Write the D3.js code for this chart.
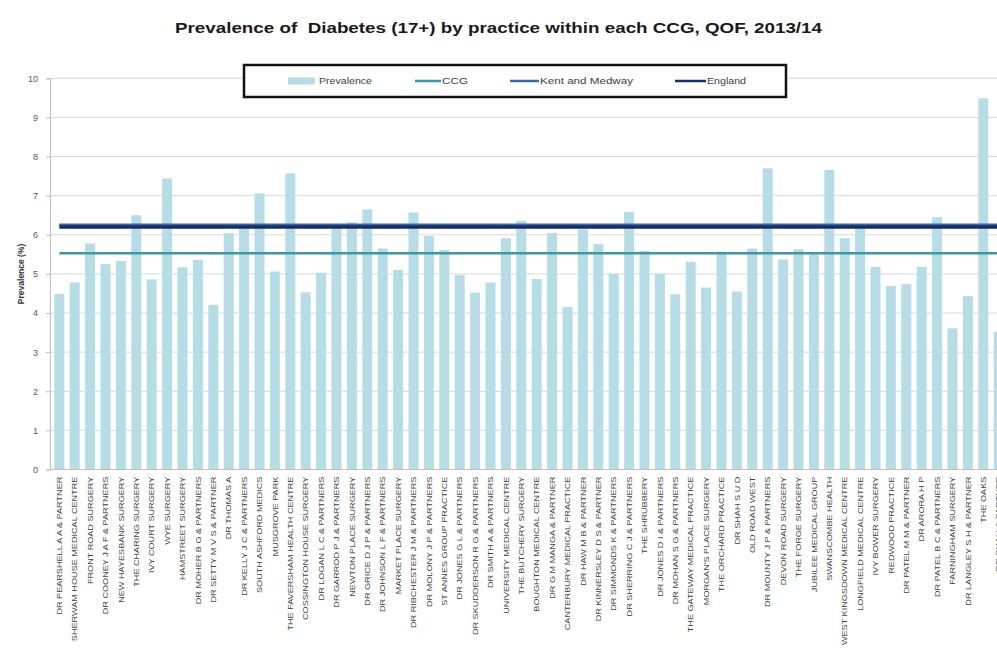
<!DOCTYPE html>
<html>
<head>
<meta charset="utf-8">
<script src="https://cdn.jsdelivr.net/npm/d3@7/dist/d3.min.js"></script>
<style>
  html, body { margin: 0; padding: 0; background: #fff; }
  svg { display: block; font-family: "Liberation Sans", Arial, sans-serif; }
</style>
</head>
<body>
<svg id="chart" width="997" height="648"></svg>
<script>
// Practice names in chart order
const practices = [
  "DR PEARSHELL A A & PARTNER",
  "SHERWAM HOUSE MEDICAL CENTRE",
  "FRONT ROAD SURGERY",
  "DR COONEY J A F & PARTNERS",
  "NEW HAYESBANK SURGERY",
  "THE CHARING SURGERY",
  "IVY COURT SURGERY",
  "WYE SURGERY",
  "HAMSTREET SURGERY",
  "DR MOHER B G & PARTNERS",
  "DR SETTY M V S & PARTNER",
  "DR THOMAS A",
  "DR KELLY J C & PARTNERS",
  "SOUTH ASHFORD MEDICS",
  "MUSGROVE PARK",
  "THE FAVERSHAM HEALTH CENTRE",
  "COSSINGTON HOUSE SURGERY",
  "DR LOGAN L C & PARTNERS",
  "DR GARROD P J & PARTNERS",
  "NEWTON PLACE SURGERY",
  "DR GRICE D J P & PARTNERS",
  "DR JOHNSON L F & PARTNERS",
  "MARKET PLACE SURGERY",
  "DR RIBCHESTER J M & PARTNERS",
  "DR MOLONY J P & PARTNERS",
  "ST ANNES GROUP PRACTICE",
  "DR JONES G L & PARTNERS",
  "DR SKUDDERSON R G & PARTNERS",
  "DR SMITH A & PARTNERS",
  "UNIVERSITY MEDICAL CENTRE",
  "THE BUTCHERY SURGERY",
  "BOUGHTON MEDICAL CENTRE",
  "DR G M MANGA & PARTNER",
  "CANTERBURY MEDICAL PRACTICE",
  "DR HAW M B & PARTNER",
  "DR KINNERSLEY D S & PARTNER",
  "DR SIMMONDS K & PARTNERS",
  "DR SHERRING C J & PARTNERS",
  "THE SHRUBBERY",
  "DR JONES D I & PARTNERS",
  "DR MOHAN S G & PARTNERS",
  "THE GATEWAY MEDICAL PRACTICE",
  "MORGAN'S PLACE SURGERY",
  "THE ORCHARD PRACTICE",
  "DR SHAH S U D",
  "OLD ROAD WEST",
  "DR MOUNTY J P & PARTNERS",
  "DEVON ROAD SURGERY",
  "THE FORGE SURGERY",
  "JUBILEE MEDICAL GROUP",
  "SWANSCOMBE HEALTH",
  "WEST KINGSDOWN MEDICAL CENTRE",
  "LONGFIELD MEDICAL CENTRE",
  "IVY BOWER SURGERY",
  "REDWOOD PRACTICE",
  "DR PATEL M M & PARTNER",
  "DR ARORA H P",
  "DR PATEL B C & PARTNERS",
  "FARNINGHAM SURGERY",
  "DR LANGLEY S H & PARTNER",
  "THE OAKS",
  "DR SHAH & PARTNER"
];

// Diabetes prevalence (%), one value per practice
const prevalence = [
  4.49, 4.78, 5.78, 5.25, 5.33, 6.50, 4.86, 7.44, 5.17, 5.36,
  4.21, 6.04, 6.25, 7.06, 5.06, 7.57, 4.53, 5.03, 6.17, 6.32,
  6.65, 5.65, 5.10, 6.57, 5.97, 5.61, 4.97, 4.52, 4.78, 5.91,
  6.36, 4.87, 6.05, 4.15, 6.14, 5.76, 5.00, 6.58, 5.59, 5.00,
  4.48, 5.31, 4.65, 5.57, 4.55, 5.65, 7.70, 5.37, 5.63, 5.50,
  7.66, 5.91, 6.21, 5.18, 4.69, 4.74, 5.18, 6.45, 3.61, 4.43,
  9.49, 3.52
];

// Benchmark prevalence lines
const benchmarkNames = ["CCG", "Kent and Medway", "England"];
const benchmarkValues = [5.53, 6.25, 6.20];

const yTicks = [0, 1, 2, 3, 4, 5, 6, 7, 8, 9, 10];

const svg = d3.select("#chart");
const W = 997, H = 648;
const plotLeft = 50, plotTop = 78.3, plotBottom = 469.5;

const colors = {
  bar: "#b6dde6",
  CCG: "#3f97a3",
  "Kent and Medway": "#3a6a9c",
  England: "#1a2c66"
};
const widths = { CCG: 2.5, "Kent and Medway": 3, England: 3.5 };

const y = d3.scaleLinear().domain([0, 10]).range([plotBottom, plotTop]);
const x = d3.scaleBand()
  .domain(practices)
  .range([51.6, 51.6 + practices.length * 15.4])
  .paddingInner(0.35)
  .paddingOuter(0.175);

// Title, stretched to its wide setting
svg.append("text")
  .attr("x", 175).attr("y", 33)
  .attr("font-size", 14.5).attr("font-weight", "bold")
  .attr("fill", "#1a1a1a")
  .attr("textLength", 647).attr("lengthAdjust", "spacingAndGlyphs")
  .style("white-space", "pre")
  .text("Prevalence of  Diabetes (17+) by practice within each CCG, QOF, 2013/14");

// Horizontal gridlines
svg.append("g").selectAll("line").data(yTicks.filter(d => d > 0)).join("line")
  .attr("x1", plotLeft).attr("x2", W)
  .attr("y1", d => y(d)).attr("y2", d => y(d))
  .attr("stroke", "#d9d9d9").attr("stroke-width", 1);

// Y axis
const yAxis = svg.append("g")
  .attr("transform", `translate(${plotLeft},0)`)
  .call(d3.axisLeft(y).tickValues(yTicks).tickSize(4).tickPadding(8));
yAxis.select(".domain").attr("stroke", "#bfbfbf");
yAxis.selectAll(".tick line").attr("stroke", "#bfbfbf");
yAxis.selectAll(".tick text").attr("font-size", 9).attr("fill", "#595959")
  .attr("font-family", "Liberation Sans, Arial, sans-serif");

svg.append("text")
  .attr("transform", `translate(24,${(plotTop + plotBottom) / 2}) rotate(-90)`)
  .attr("text-anchor", "middle")
  .attr("font-size", 8.5).attr("font-weight", "bold").attr("fill", "#333")
  .text("Prevalence (%)");

// Bars
svg.append("g").selectAll("rect").data(practices).join("rect")
  .attr("x", (d) => x(d))
  .attr("width", x.bandwidth())
  .attr("y", (d, i) => y(prevalence[i]))
  .attr("height", (d, i) => y(0) - y(prevalence[i]))
  .attr("fill", colors.bar);

// X axis baseline
svg.append("line")
  .attr("x1", plotLeft).attr("x2", W)
  .attr("y1", y(0)).attr("y2", y(0))
  .attr("stroke", "#bfbfbf");

// Category labels, vertical and stretched along their length
const xAxis = svg.append("g")
  .attr("transform", `translate(0,${y(0)})`)
  .call(d3.axisBottom(x).tickSize(0).tickPadding(0));
xAxis.select(".domain").remove();
xAxis.selectAll(".tick text")
  .attr("transform", "rotate(-90) scale(1.2,1)")
  .attr("text-anchor", "end")
  .attr("x", -6).attr("y", 0).attr("dy", "0.35em")
  .attr("font-size", 7.6).attr("fill", "#404040")
  .attr("font-family", "Liberation Sans, Arial, sans-serif");

// Benchmark lines
const line = d3.line()
  .x(d => x(d.name) + x.bandwidth() / 2)
  .y(d => y(d.value));
benchmarkNames.forEach((name, k) => {
  const pts = practices.map(p => ({ name: p, value: benchmarkValues[k] }));
  svg.append("path")
    .datum(pts)
    .attr("d", line)
    .attr("fill", "none")
    .attr("stroke", colors[name])
    .attr("stroke-width", widths[name]);
});

// Legend
const lg = svg.append("g");
lg.append("rect")
  .attr("x", 244).attr("y", 65).attr("width", 542).attr("height", 32)
  .attr("fill", "#fff").attr("stroke", "#111").attr("stroke-width", 2.5);
const ly = 81;
lg.append("rect").attr("x", 288).attr("y", ly - 3.5).attr("width", 27).attr("height", 7)
  .attr("fill", colors.bar);
lg.append("text").attr("x", 319).attr("y", ly).attr("dy", "0.35em")
  .attr("font-size", 9.5).attr("fill", "#404040")
  .attr("textLength", 53).attr("lengthAdjust", "spacingAndGlyphs")
  .text("Prevalence");
const legendLines = [
  { name: "CCG", x0: 415, x1: 441, len: 26 },
  { name: "Kent and Medway", x0: 510, x1: 539, len: 93 },
  { name: "England", x0: 675, x1: 706, len: 39 }
];
legendLines.forEach(l => {
  lg.append("line").attr("x1", l.x0).attr("x2", l.x1).attr("y1", ly).attr("y2", ly)
    .attr("stroke", colors[l.name]).attr("stroke-width", 2.5);
  lg.append("text").attr("x", l.x1 + 1).attr("y", ly).attr("dy", "0.35em")
    .attr("font-size", 9.5).attr("fill", "#404040")
    .attr("textLength", l.len).attr("lengthAdjust", "spacingAndGlyphs")
    .text(l.name);
});
</script>
</body>
</html>
